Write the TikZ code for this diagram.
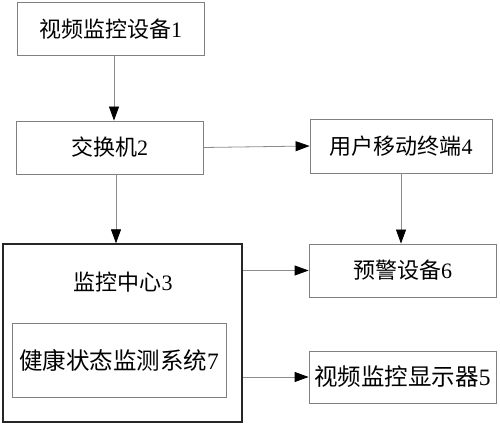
\documentclass[tikz,border=0pt]{standalone}
\usepackage{fontspec}
\setmainfont{Liberation Serif}
\newfontfamily\cjk{Noto Sans CJK SC}
\usetikzlibrary{arrows.meta}
\newcommand{\lbl}[2]{{\cjk #1}{\rmfamily #2}}
\tikzset{
  box/.style={draw=black!50, line width=0.8pt, rectangle, inner sep=0pt, font=\fontsize{22}{26}\selectfont},
  bigtext/.style={font=\fontsize{23.5}{28}\selectfont},
  conn/.style={draw=black!45, line width=0.8pt, -{Triangle[length=14pt,width=10pt,color=black]}}
}
\begin{document}
\begin{tikzpicture}[x=1pt,y=-1pt]
\useasboundingbox (0,0) rectangle (500,427);
\node[box, minimum width=187pt, minimum height=53pt] (b1) at (110.5,29) {\lbl{视频监控设备}{1}};
\node[box, minimum width=187pt, minimum height=53pt] (b2) at (109.5,147.5) {\lbl{交换机}{2}};
\node[box, minimum width=182pt, minimum height=54pt] (b4) at (401,146) {\lbl{用户移动终端}{4}};
\node[box, minimum width=187pt, minimum height=53pt] (b6) at (402.5,270.5) {\lbl{预警设备}{6}};
\node[box, bigtext, minimum width=187pt, minimum height=52pt] (b5) at (402.5,377) {\lbl{视频监控显示器}{5}};
\node[box, draw=black!85, line width=1.3pt, minimum width=239pt, minimum height=178pt] (b3) at (122.5,333) {};
\node[font=\fontsize{22}{26}\selectfont] (l3) at (123,282) {\lbl{监控中心}{3}};
\node[box, bigtext, minimum width=214pt, minimum height=74pt] (b7) at (119,360) {\lbl{健康状态监测系统}{7}};
\draw[conn] ([xshift=3.5pt]b1.south) -- ([xshift=3.5pt]b1.south |- b2.north);
\draw[conn] ([xshift=6.5pt]b2.south) -- ([xshift=6.5pt]b2.south |- b3.north);
\draw[conn] (b2.east) -- (b4.west);
\draw[conn] (b4.south) -- (b4.south |- b6.north);
\draw[conn] (b3.east |- b6.west) -- (b6.west);
\draw[conn] (b3.east |- b5.west) -- (b5.west);
\end{tikzpicture}
\end{document}
